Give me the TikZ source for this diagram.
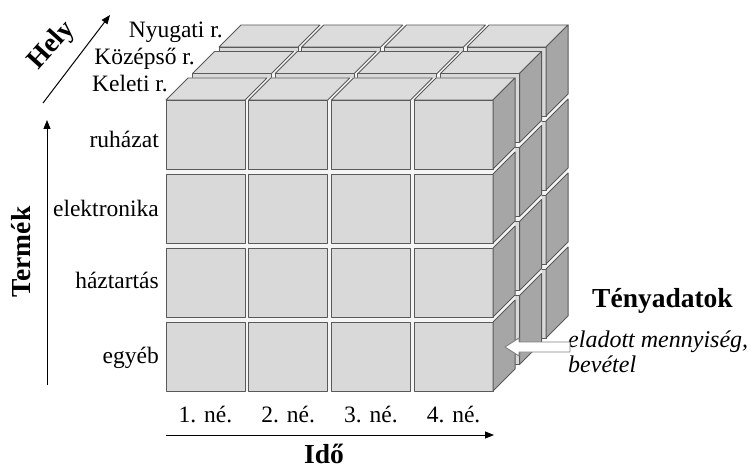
\documentclass[tikz,border=0pt]{standalone}
\usepackage{fontspec}
\setmainfont{Liberation Serif}
\usetikzlibrary{arrows.meta}

\definecolor{facefront}{HTML}{D9D9D9}
\definecolor{facetop}{HTML}{DCDCDC}
\definecolor{faceside}{HTML}{A6A6A6}
\definecolor{edgegray}{HTML}{5A5A5A}

\begin{document}
\begin{tikzpicture}[x=1pt,y=-1pt,
  face/.style={draw=edgegray,line width=0.9pt,line join=round},
  lbl/.style={font=\fontsize{23.5}{27}\selectfont,inner sep=0pt},
  ital/.style={font=\fontsize{24}{28}\selectfont\itshape,inner sep=0pt},
  axislbl/.style={font=\fontsize{27.5}{31}\selectfont\bfseries,inner sep=0pt},
  axis/.style={line width=1pt,-{Triangle[length=9pt,width=7pt]}}]
\useasboundingbox (0,0) rectangle (752,470);

% cube size, grid pitch, depth and layer offset
\def\cw{79}\def\ch{69}\def\px{82.7}\def\py{74}\def\dd{22}\def\lo{26.5}

% three layers of 4x4 cubes, drawn from back to front
\foreach \L in {2,1,0}{
  \pgfmathsetmacro\ox{166+\lo*\L}
  \pgfmathsetmacro\oy{100-\lo*\L}
  % light body of the layer, shows through the gaps
  \fill[white!96!black] (\ox,\oy+291) -- (\ox,\oy) -- ++(\dd,-\dd) -- ++(327.1,0)
     -- ++(0,291) -- ++(-\dd,\dd) -- cycle;
  % front faces
  \foreach \r in {0,...,3}{
    \foreach \c in {0,...,3}{
      \filldraw[face,fill=facefront] (\ox+\c*\px,\oy+\r*\py) rectangle ++(\cw,\ch);
    }
  }
  % top faces of the upper row
  \foreach \c in {0,...,3}{
    \filldraw[face,fill=facetop] (\ox+\c*\px,\oy) -- ++(\dd,-\dd) -- ++(\cw,0)
      -- ++(-\dd,\dd) -- cycle;
  }
  % side faces of the right column
  \foreach \r in {0,...,3}{
    \filldraw[face,fill=faceside] (\ox+3*\px+\cw,\oy+\r*\py) -- ++(\dd,-\dd)
      -- ++(0,\ch) -- ++(-\dd,\dd) -- cycle;
  }
}

% place labels
\node[lbl,anchor=base east] (nyugati) at (223,38) {Nyugati r.};
\node[lbl,anchor=base east] (kozepso) at (195,65) {Középső r.};
\node[lbl,anchor=base east] (keleti)  at (168,92) {Keleti r.};

% product labels
\node[lbl,anchor=base east] (ruhazat) at (159,148) {ruházat};
\node[lbl,anchor=base east] (elektr)  at (159,217) {elektronika};
\node[lbl,anchor=base east] (haztart) at (159,288) {háztartás};
\node[lbl,anchor=base east] (egyeb)   at (159,363) {egyéb};

% time labels
\foreach \c/\t in {0/1,1/2,2/3,3/4}{
  \node[lbl,anchor=base] (ne\t) at (166+\c*\px+\cw/2,422) {\t. né.};
}

% axes
\coordinate (helyA) at (43,103);
\coordinate (helyB) at (110,15);
\draw[axis] (helyA) -- (helyB);
\node[axislbl,rotate=48] (hely) at (52,46) {Hely};

\coordinate (termA) at (47,385);
\coordinate (termB) at (47,120);
\draw[axis] (termA) -- (termB);
\node[axislbl,rotate=90] (termek) at (21,252) {Termék};

\coordinate (idoA) at (166,435);
\coordinate (idoB) at (494,435);
\draw[axis] (idoA) -- (idoB);
\node[axislbl,anchor=base] (ido) at (324,463) {Idő};

% facts
\node[axislbl,anchor=base west] (teny) at (592,307) {Tényadatok};
\node[ital,anchor=base west] (eladott) at (568,347) {eladott mennyiség,};
\node[ital,anchor=base west] (bevetel) at (568,372) {bevétel};
% white block arrow pointing at the cube
\filldraw[draw=gray,fill=white,line width=0.9pt,line join=round]
  (505,347) -- (519,338) -- (519,342) -- (570,342) -- (570,352)
  -- (519,352) -- (519,356) -- cycle;
\end{tikzpicture}
\end{document}
